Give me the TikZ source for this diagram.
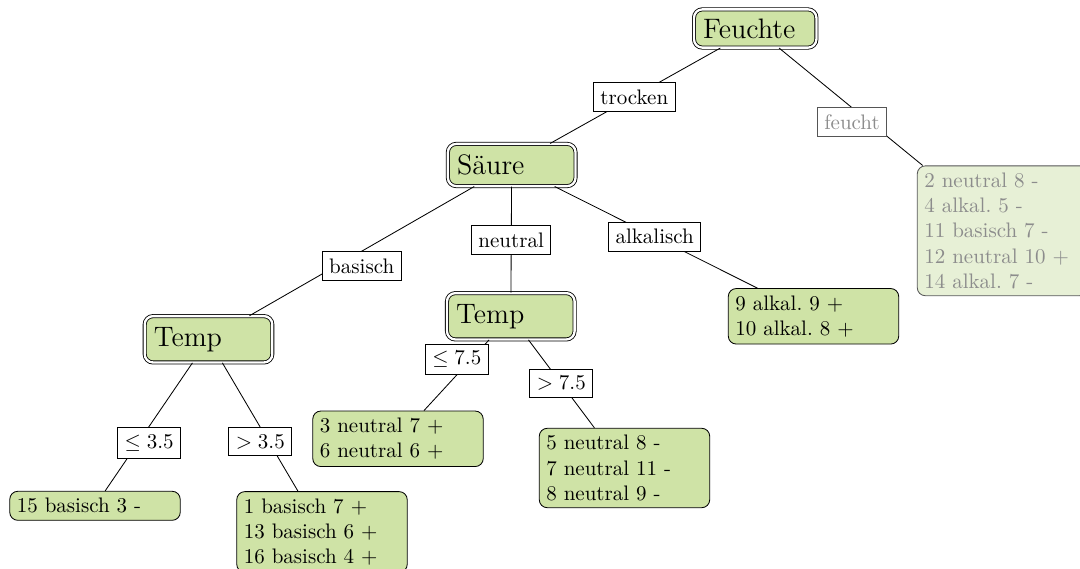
\documentclass[tikz,border=0pt]{standalone}
\definecolor{nodegreen}{RGB}{207,227,166}
\definecolor{fadegreen}{RGB}{231,240,214}
\definecolor{fadetext}{RGB}{140,140,140}
\definecolor{fadeline}{RGB}{85,85,85}
\frenchspacing
\begin{document}
\begin{tikzpicture}[x=0.47619pt,y=-0.47619pt,
  decision/.style={draw, double, double distance=1.1pt, rounded corners=4pt, fill=nodegreen,
    font=\fontsize{13.4}{16}\selectfont, inner xsep=4.4pt, inner ysep=5.2pt, align=left, text width=52pt},
  leaf/.style={draw, rounded corners=3.8pt, fill=nodegreen, inner sep=3.33pt, align=left, text width=74.5pt},
  fadedleaf/.style={leaf, fill=fadegreen, draw=fadeline, text=fadetext},
  lab/.style={draw, fill=white, inner sep=3.33pt},
  fadedlab/.style={lab, draw=fadeline, text=fadetext},
  conn/.style={draw, line width=0.4pt}]
\useasboundingbox (0,0) rectangle (1080,569);
% decision nodes
\node[decision, text width=49.5pt, inner ysep=4.4pt] (feuchte) at (755.2,28.5) {Feuchte};
\node[decision] (saeure) at (511.7,165) {Säure};
\node[decision] (tempL) at (208.5,339.3) {Temp};
\node[decision] (tempM) at (510.8,316.3) {Temp};
% leaves
\node[fadedleaf] (rest) at (1002.5,230.8) {2 neutral 8 -\\4 alkal. 5 -\\11 basisch 7 -\\12 neutral 10 $+$\\14 alkal. 7 -};
\node[leaf] (l9) at (813.5,316.3) {9 alkal. 9 $+$\\10 alkal. 8 $+$};
\node[leaf] (l3) at (398,438.8) {3 neutral 7 $+$\\6 neutral 6 $+$};
\node[leaf] (l5) at (624.5,468) {5 neutral 8 -\\7 neutral 11 -\\8 neutral 9 -};
\node[leaf] (l15) at (95,505.8) {15 basisch 3 -};
\node[leaf] (l1) at (322,532) {1 basisch 7 $+$\\13 basisch 6 $+$\\16 basisch 4 $+$};
% connectors
\draw[conn] (feuchte) -- (saeure);
\draw[conn] (feuchte) -- (rest);
\draw[conn] (saeure) -- (tempL);
\draw[conn] (saeure) -- (tempM);
\draw[conn] (saeure) -- (l9);
\draw[conn] (tempL) -- (l15);
\draw[conn] (tempL) -- (l1);
\draw[conn] (tempM) -- (l3);
\draw[conn] (tempM) -- (l5);
% edge labels
\node[lab] (ltrocken) at (634.3,97) {trocken};
\node[fadedlab] (lfeucht) at (852,122) {feucht};
\node[lab] (lbasisch) at (361.7,266.2) {basisch};
\node[lab] (lneutral) at (511.2,240) {neutral};
\node[lab] (lalkalisch) at (654.7,236.8) {alkalisch};
\node[lab] (lle35) at (149.2,442.8) {$\leq 3.5$};
\node[lab] (lgt35) at (260.3,441.7) {$> 3.5$};
\node[lab] (lle75) at (456.8,359.2) {$\leq 7.5$};
\node[lab] (lgt75) at (561.3,383.5) {$> 7.5$};
\end{tikzpicture}
\end{document}
